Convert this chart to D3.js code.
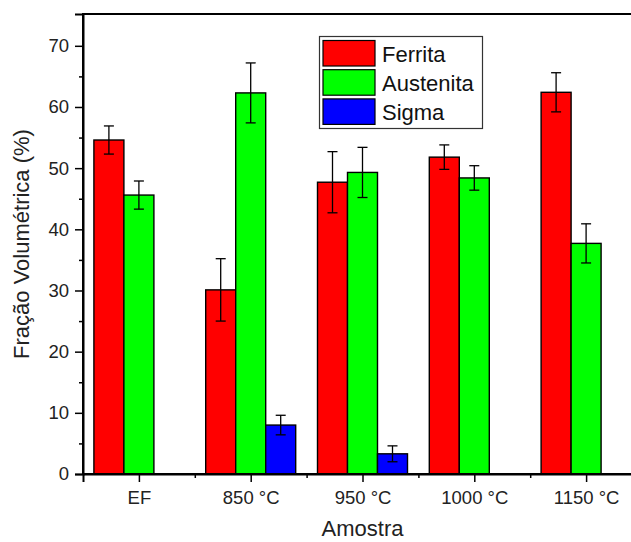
<!DOCTYPE html>
<html>
<head>
<meta charset="utf-8">
<script src="https://cdn.jsdelivr.net/npm/d3@7"></script>
<style>
  html, body { margin: 0; padding: 0; background: #fff; }
  svg { display: block; font-family: "Liberation Sans", Arial, sans-serif; }
</style>
</head>
<body>
<svg id="chart" width="631" height="542"></svg>
<script>
// Sample groups along the x axis
const categories = ["EF", "850 °C", "950 °C", "1000 °C", "1150 °C"];
// Phase series (legend order)
const seriesNames = ["Ferrita", "Austenita", "Sigma"];
const seriesColors = ["#ff0000", "#00ff00", "#0000ff"];
// Volume fraction (%) per phase; null where the phase is absent
const ferrita   = [54.6, 30.1, 47.7, 51.8, 62.4];
const austenita = [45.6, 62.3, 49.3, 48.4, 37.7];
const sigma     = [null, 8.0, 3.3, null, null];
// Standard deviations
const ferritaErr   = [2.3, 5.1, 5.0, 2.0, 3.2];
const austenitaErr = [2.3, 4.9, 4.1, 2.0, 3.2];
const sigmaErr     = [null, 1.6, 1.3, null, null];
// Axis ticks
const yTicks = [0, 10, 20, 30, 40, 50, 60, 70];
const yMinorTicks = [5, 15, 25, 35, 45, 55, 65];

const values = [ferrita, austenita, sigma];
const errors = [ferritaErr, austenitaErr, sigmaErr];

const svg = d3.select("#chart");
const plot = { left: 83, right: 642, top: 14, bottom: 474 };

const x = d3.scaleLinear().domain([0.5, categories.length + 0.5]).range([plot.left, plot.right]);
const y = d3.scaleLinear().domain([0, 75.2]).range([plot.bottom, plot.top]);
const barW = 30;

// Bars with error bars
const bars = [];
values.forEach((arr, s) => {
  arr.forEach((v, i) => {
    if (v == null) return;
    bars.push({ s, i, v, e: errors[s][i] });
  });
});

const g = svg.append("g");
g.selectAll("rect.bar").data(bars).join("rect")
  .attr("class", "bar")
  .attr("x", d => x(d.i + 1) + (d.s - 1.5) * barW)
  .attr("y", d => y(d.v))
  .attr("width", barW)
  .attr("height", d => y(0) - y(d.v))
  .attr("fill", d => seriesColors[d.s])
  .attr("stroke", "#000")
  .attr("stroke-width", 1.4);

const eb = g.selectAll("g.err").data(bars).join("g").attr("class", "err")
  .attr("stroke", "#000").attr("stroke-width", 1.3);
const cx = d => x(d.i + 1) + (d.s - 1) * barW;
eb.append("line")
  .attr("x1", cx).attr("x2", cx)
  .attr("y1", d => y(d.v + d.e)).attr("y2", d => y(d.v - d.e));
eb.append("line")
  .attr("x1", d => cx(d) - 5).attr("x2", d => cx(d) + 5)
  .attr("y1", d => y(d.v + d.e)).attr("y2", d => y(d.v + d.e));
eb.append("line")
  .attr("x1", d => cx(d) - 5).attr("x2", d => cx(d) + 5)
  .attr("y1", d => y(d.v - d.e)).attr("y2", d => y(d.v - d.e));

// Frame
svg.append("rect")
  .attr("x", plot.left).attr("y", plot.top)
  .attr("width", plot.right - plot.left).attr("height", plot.bottom - plot.top)
  .attr("fill", "none").attr("stroke", "#000").attr("stroke-width", 2);

// Y axis
svg.append("g").attr("transform", `translate(${plot.left},0)`)
  .call(d3.axisLeft(y).tickValues(yTicks).tickSize(8).tickPadding(6).tickFormat(d3.format("d")));
svg.append("g").attr("transform", `translate(${plot.left},0)`)
  .call(d3.axisLeft(y).tickValues(yMinorTicks).tickSize(4).tickFormat(""))
  .call(a => a.select(".domain").remove());

// X axis
svg.append("g").attr("transform", `translate(0,${plot.bottom})`)
  .call(d3.axisBottom(x).tickValues(d3.range(1, categories.length + 1)).tickSize(8).tickPadding(9)
    .tickFormat((d, i) => categories[i]));
svg.append("g").attr("transform", `translate(0,${plot.bottom})`)
  .call(d3.axisBottom(x).tickValues(d3.range(1.5, categories.length + 0.6, 1)).tickSize(4).tickFormat(""))
  .call(a => a.select(".domain").remove());

svg.selectAll(".tick line").attr("stroke", "#000").attr("stroke-width", 1.5);
svg.selectAll(".domain").attr("stroke", "#000").attr("stroke-width", 2);
svg.selectAll(".tick text").attr("fill", "#222").style("font-size", "18.5px")
  .style("font-family", "'Liberation Sans', Arial, sans-serif");

// Axis titles
svg.append("text")
  .attr("x", (plot.left + plot.right) / 2).attr("y", 536)
  .attr("text-anchor", "middle").attr("fill", "#222")
  .style("font-size", "22px").text("Amostra");
svg.append("text")
  .attr("transform", `translate(29,${(plot.top + plot.bottom) / 2}) rotate(-90)`)
  .attr("text-anchor", "middle").attr("fill", "#222")
  .style("font-size", "22px").text("Fração Volumétrica (%)");

// Legend
const legend = svg.append("g").attr("transform", "translate(319.5,36.5)");
legend.append("rect").attr("width", 163).attr("height", 92)
  .attr("fill", "#fff").attr("stroke", "#333").attr("stroke-width", 1.2);
const rows = legend.selectAll("g.row").data(seriesNames).join("g")
  .attr("transform", (d, i) => `translate(3.5,${4 + i * 29.2})`);
rows.append("rect").attr("width", 52).attr("height", 25.5)
  .attr("fill", (d, i) => seriesColors[i]).attr("stroke", "#000").attr("stroke-width", 1.2);
rows.append("text").attr("x", 59).attr("y", 21)
  .attr("fill", "#111").style("font-size", "22px").text(d => d);
</script>
</body>
</html>
